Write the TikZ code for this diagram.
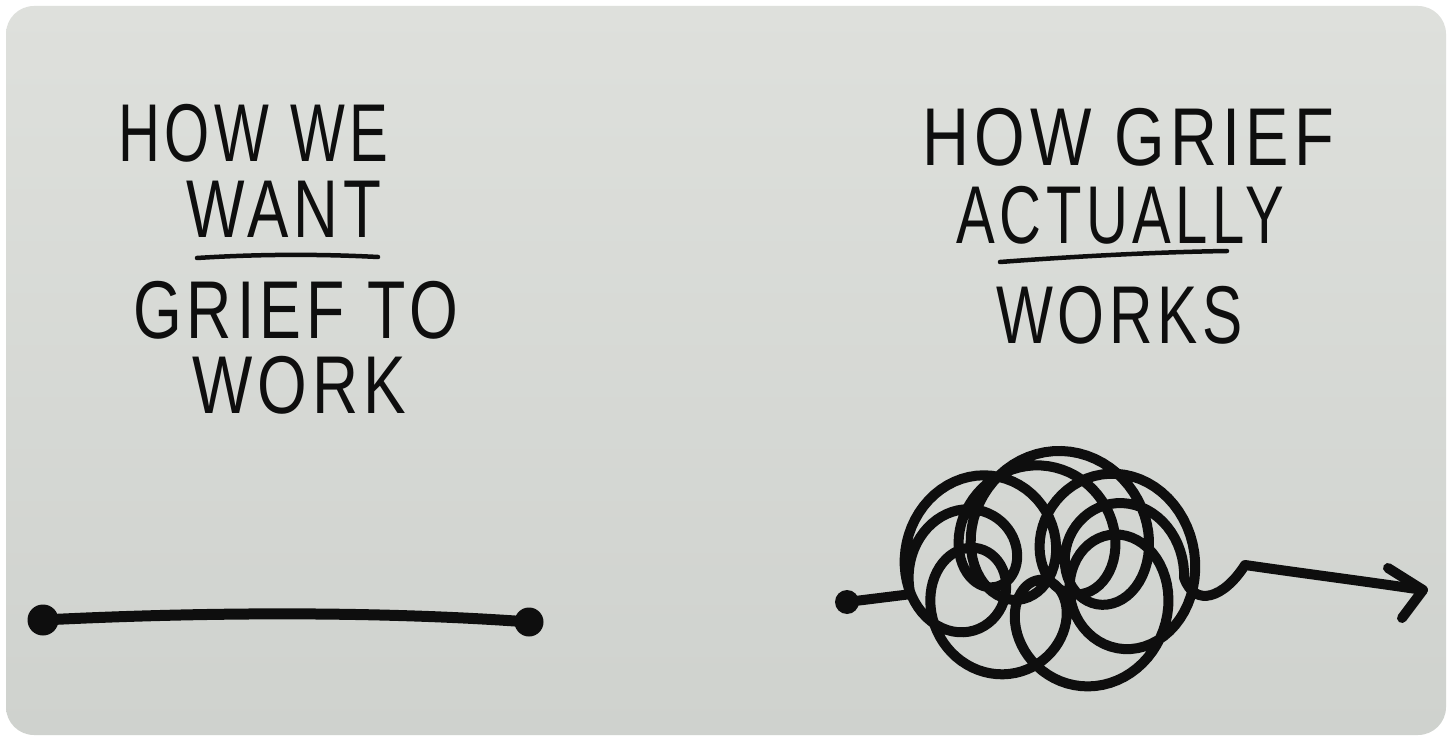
\documentclass[tikz,border=0pt]{standalone}
\usepackage{fontspec}
\setmainfont{Liberation Sans}
\newfontfamily\handfont[LetterSpace=8]{Liberation Sans}
\usepackage{graphicx}
\usepackage{pdfrender}
\definecolor{paperlight}{RGB}{222,224,220}
\definecolor{paperdark}{RGB}{207,210,206}
\definecolor{papermid}{RGB}{218,220,216}
\definecolor{ink}{RGB}{14,14,14}
\tikzset{
  hand/.style={font=\handfont\fontsize{82}{82}\selectfont, text=ink, inner sep=0pt},
  pen/.style={draw=ink, line width=10pt, line cap=round, line join=round},
  thinpen/.style={draw=ink, line width=4.5pt, line cap=round},
  inkdot/.style={circle, fill=ink, inner sep=0pt, minimum size=#1},
}
\newcommand{\hwtext}[2]{\resizebox{#1}{\height}{\textpdfrender{TextRenderingMode=FillStroke,LineWidth=3pt,StrokeColor=papermid}{#2}}}
\begin{document}
\begin{tikzpicture}[x=1pt,y=-1pt]
\useasboundingbox (0,0) rectangle (1452,738);
\fill[white] (0,0) rectangle (1452,738);
\shade[top color=paperlight, bottom color=paperdark, rounded corners=28pt] (6,6) rectangle (1446,735);

% left heading
\node[hand, anchor=base west] (l1) at (118,162) {\hwtext{270pt}{HOW WE}};
\node[hand, anchor=base west] (l2) at (186,238) {\hwtext{195pt}{WANT}};
\node[hand, anchor=base west] (l3) at (133,338) {\hwtext{325pt}{GRIEF TO}};
\node[hand, anchor=base west] (l4) at (192,413) {\hwtext{214pt}{WORK}};
\draw[thinpen] (197,258) .. controls (260,254) and (320,254) .. (378,257);

% right heading
\node[hand, anchor=base west] (r1) at (922,166) {\hwtext{412pt}{HOW GRIEF}};
\node[hand, anchor=base west] (r2) at (956,244) {\hwtext{328pt}{ACTUALLY}};
\node[hand, anchor=base west] (r3) at (996,343) {\hwtext{247pt}{WORKS}};
\draw[thinpen] (1000,262) .. controls (1080,256) and (1160,252) .. (1227,251);

% straight line
\node[inkdot=31pt] (a) at (43,620) {};
\node[inkdot=29pt] (b) at (529,622) {};
\draw[pen, line width=11pt] (a.center) .. controls (200,612) and (380,611) .. (b.center);

% tangled line
\node[inkdot=24pt] (s) at (847,602) {};
\coordinate (tip) at (1423,590);
\draw[pen] (s.center) -- plot[domain=180:720, samples=500, variable=\t]
  ({1045+90*cos(\t)+(55+10*sin(1.3*\t))*cos(5.7*(\t-720))},
   {578+55*sin(\t)+(62+12*sin(1.3*\t))*sin(5.7*(\t-720))})
  .. controls (1195,608) and (1224,598) .. (1245,565)
  .. controls (1300,573) and (1370,582) .. (tip);
\draw[pen] (1388,568) -- (tip) -- (1402,618);
\end{tikzpicture}
\end{document}
